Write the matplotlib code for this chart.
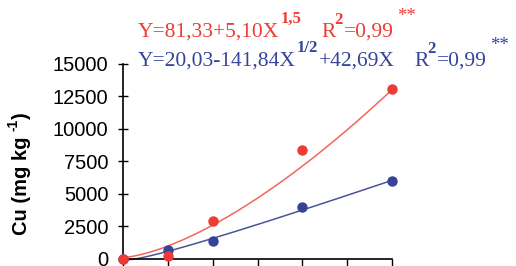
import numpy as np
import matplotlib
matplotlib.use("Agg")
import matplotlib.pyplot as plt

# Data
x_points = [0, 31, 62, 124, 186]
red_points = [0, 230, 2890, 8400, 13100]
blue_points = [0, 620, 1330, 3980, 6010]
x_ticks = [0, 31, 62, 93, 124, 155, 186]
y_ticks = [0, 2500, 5000, 7500, 10000, 12500, 15000]

# Regression coefficients printed on the chart
red_coef = (81.33, 5.10, 1.5)
blue_coef = (20.03, -141.84, 42.69)

red_eq = [("Y=81,33+5,10X", "n"), ("1,5", "s"), ("gap", 19), ("R", "n"), ("2", "s2"),
          ("=0,99", "n"), ("**", "a")]
blue_eq = [("Y=20,03-141,84X", "n"), ("1/2", "s"), ("+42,69X", "n"), ("gap", 19), ("R", "n"),
           ("2", "s2"), ("=0,99", "n"), ("**", "a")]
y_label = [("Cu (mg kg ", "n"), ("-1", "s"), (")", "n")]

red_c = "#ee3b33"
red_line = "#f2665c"
blue_c = "#34449a"
blue_line = "#4a5596"

W, H = 516, 266
fig = plt.figure(figsize=(W/100, H/100), dpi=100)
ax = fig.add_axes([123/W, 1-258.5/H, (392-123)/W, (258.5-64)/H])

xs = np.linspace(0, max(x_points), 300)
yr = red_coef[0] + red_coef[1] * xs ** red_coef[2]
yb = blue_coef[0] + blue_coef[1] * np.sqrt(xs) + blue_coef[2] * xs
ax.plot(xs, yr, color=red_line, lw=1.1, clip_on=False)
ax.plot(xs, yb, color=blue_line, lw=1.1, clip_on=False)
ax.plot(x_points, blue_points, 'o', color=blue_c, ms=6.5, clip_on=False, zorder=3)
ax.plot(x_points, red_points, 'o', color=red_c, ms=6.5, clip_on=False, zorder=4)

ax.set_xlim(0, 186)
ax.set_ylim(0, 15000)
ax.set_xticks(x_ticks)
ax.set_xticklabels([])
ax.set_yticks(y_ticks)
ax.set_yticklabels([str(v) for v in y_ticks], fontfamily='Liberation Sans', fontsize=14.5)
ax.spines['top'].set_visible(False)
ax.spines['right'].set_visible(False)
ax.spines['left'].set_linewidth(1.2)
ax.spines['bottom'].set_linewidth(1.2)
ax.tick_params(axis='y', direction='inout', length=7, width=1.0, pad=7)
ax.tick_params(axis='x', direction='out', length=6, width=1.0)

renderer = fig.canvas.get_renderer()


def draw_eq(segs, x0, base, color, size=15.5, ssize=12):
    x = x0
    for txt, kind in segs:
        if txt == "gap":
            x += kind
            continue
        if kind == "n":
            t = fig.text(x/W, 1-base/H, txt, color=color, fontfamily='Liberation Serif',
                         fontsize=size, ha='left', va='baseline')
            pre, post = 0, 0
        elif kind == "a":
            pre = 3
            t = fig.text((x+pre)/W, 1-(base-16)/H, txt, color=color,
                         fontfamily='Liberation Serif', fontsize=13.5,
                         ha='left', va='baseline')
            post = 0
        else:
            pre = -1 if kind == "s2" else 1
            raise_px = 13 if kind == "s2" else 14
            t = fig.text((x+pre)/W, 1-(base-raise_px)/H, txt, color=color,
                         fontfamily='Liberation Serif', fontsize=ssize, fontweight='bold',
                         ha='left', va='baseline')
            post = 1
        bb = t.get_window_extent(renderer)
        x += bb.width + pre + post


def draw_vlabel(segs, xbase, y0, size=14.5, ssize=10):
    y = y0  # pixels from top; text grows upward
    for txt, kind in segs:
        if kind == "n":
            t = fig.text(xbase/W, 1-y/H, txt, rotation=90, rotation_mode='anchor',
                         ha='left', va='baseline', fontfamily='Liberation Sans',
                         fontweight='bold', fontsize=size)
        else:
            t = fig.text((xbase-9)/W, 1-y/H, txt, rotation=90, rotation_mode='anchor',
                         ha='left', va='baseline', fontfamily='Liberation Sans',
                         fontweight='bold', fontsize=ssize)
        bb = t.get_window_extent(renderer)
        y -= bb.height


draw_vlabel(y_label, 27, 235)
draw_eq(red_eq, 138, 37, red_c)
draw_eq(blue_eq, 138, 66, blue_c)

fig.savefig('out.png', dpi=100)
